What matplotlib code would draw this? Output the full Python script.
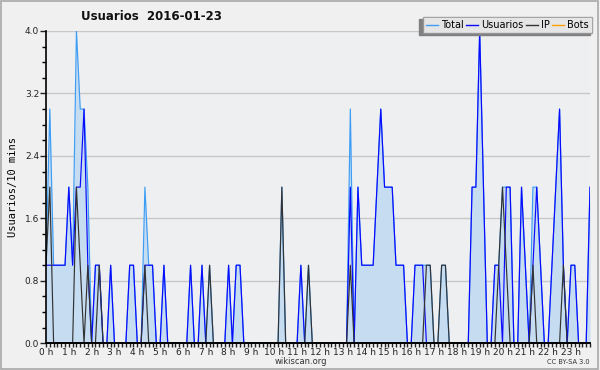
import matplotlib
matplotlib.use('Agg')
import matplotlib.pyplot as plt
import numpy as np
from matplotlib.patches import Rectangle

# values per 10 minute slot (144 slots), only the non-zero ones listed
n_slots = 144
total_nz = {0: 1, 1: 3, 2: 1, 3: 1, 4: 1, 5: 1, 6: 2, 7: 1, 8: 4, 9: 3, 10: 3, 11: 2,
            13: 1, 14: 1, 17: 1, 22: 1, 23: 1, 26: 2, 27: 1, 28: 1, 31: 1,
            38: 1, 41: 1, 43: 1, 48: 1, 50: 1, 51: 1, 62: 2, 67: 1, 69: 1,
            80: 3, 82: 2, 83: 1, 84: 1, 85: 1, 86: 1, 87: 2, 88: 3, 89: 2, 90: 2, 91: 2,
            92: 1, 93: 1, 94: 1, 97: 1, 98: 1, 99: 1, 100: 1, 101: 1, 104: 1, 105: 1,
            112: 2, 113: 2, 114: 4, 115: 2, 118: 1, 119: 1, 120: 2, 121: 2, 122: 2,
            125: 2, 126: 1, 128: 2, 129: 2, 130: 1, 133: 1, 134: 2, 135: 3, 136: 1,
            138: 1, 139: 1, 143: 2}
usuarios_nz = {0: 1, 1: 1, 2: 1, 3: 1, 4: 1, 5: 1, 6: 2, 7: 1, 8: 2, 9: 2, 10: 3, 11: 1,
               13: 1, 14: 1, 17: 1, 22: 1, 23: 1, 26: 1, 27: 1, 28: 1, 31: 1,
               38: 1, 41: 1, 48: 1, 50: 1, 51: 1, 67: 1,
               80: 2, 82: 2, 83: 1, 84: 1, 85: 1, 86: 1, 87: 2, 88: 3, 89: 2, 90: 2, 91: 2,
               92: 1, 93: 1, 94: 1, 97: 1, 98: 1, 99: 1,
               112: 2, 113: 2, 114: 4, 115: 2, 118: 1, 119: 1, 121: 2, 122: 2,
               125: 2, 126: 1, 128: 1, 129: 2, 130: 1, 133: 1, 134: 2, 135: 3, 136: 1,
               138: 1, 139: 1, 143: 2}
ip_nz = {0: 1, 1: 2, 8: 2, 9: 1, 11: 1, 14: 1, 26: 1, 43: 1, 62: 2, 69: 1, 80: 1,
         100: 1, 101: 1, 104: 1, 105: 1, 119: 1, 120: 2, 121: 1, 128: 1, 136: 1}
bots_nz = {}

hour_labels = ['%d h' % h for h in range(24)]
y_ticks = [0.0, 0.8, 1.6, 2.4, 3.2, 4.0]


def to_series(nz):
    s = np.zeros(n_slots)
    for k, v in nz.items():
        s[k] = v
    return s


hours = np.arange(n_slots) / 6.0
total = to_series(total_nz)
usuarios = to_series(usuarios_nz)
ip = to_series(ip_nz)
bots = to_series(bots_nz)

plt.rcParams['font.family'] = 'DejaVu Sans'
fig = plt.figure(figsize=(6, 3.7), dpi=100, facecolor='#f0f0f0')
fig.patches.append(Rectangle((0.002, 0.003), 0.995, 0.994, transform=fig.transFigure,
                             fill=False, edgecolor='#a8a8a8', lw=1.2))
ax = fig.add_axes([46 / 600, 1 - 343.3 / 370, 544 / 600, 312.3 / 370])
ax.set_facecolor('#eeeff1')

lw = 0.85
ax.fill_between(hours, 0, total, color='#c6dcf0', lw=0)
ax.plot(hours, total, color='#3d9df5', lw=lw)
ax.plot(hours, usuarios, color='#0a0aff', lw=lw)
ax.plot(hours, ip, color='#333333', lw=lw)
ax.plot(hours, bots, color='#ffa000', lw=lw)

ax.set_xlim(0, hours[-1])
ax.set_ylim(0, 4.0)
ax.set_yticks(y_ticks)
ax.set_yticklabels(['%.1f' % v for v in y_ticks])
ax.set_yticks(np.arange(0, 4.01, 0.2), minor=True)
ax.set_xticks(np.arange(24))
ax.set_xticklabels(hour_labels)
ax.set_xticks(np.arange(0, 24, 1 / 6.0), minor=True)
ax.grid(axis='y', color='#c8c8c8', lw=1.0)
ax.set_axisbelow(True)

for side in ['top', 'right']:
    ax.spines[side].set_visible(False)
ax.spines['left'].set_linewidth(1.2)
ax.spines['bottom'].set_linewidth(1.4)
ax.tick_params(axis='y', which='major', direction='out', length=4, width=1,
               labelsize=6.5, pad=1, colors='#222222')
ax.tick_params(axis='y', which='minor', direction='out', length=3, width=1)
ax.tick_params(axis='x', which='both', direction='out', length=3, width=1,
               labelsize=6.5, pad=0.5, colors='#222222')

ax.set_ylabel('Usuarios/10 mins', fontsize=7.5, family='DejaVu Sans Mono', labelpad=5)

fig.text(151 / 600, 1 - 16 / 370, 'Usuarios  2016-01-23', ha='center', va='center',
         fontsize=8.5, fontweight='bold', color='#111111')
fig.text(301 / 600, 1 - 362 / 370, 'wikiscan.org', ha='center', va='center',
         fontsize=6, color='#333333')
fig.text(590 / 600, 1 - 362 / 370, 'CC BY-SA 3.0', ha='right', va='center',
         fontsize=4.8, color='#333333')

# legend with left/bottom shadow
handles = [plt.Line2D([], [], color=c, lw=1) for c in ['#3d9df5', '#0a0aff', '#333333', '#ffa000']]
leg = fig.legend(handles, ['Total', 'Usuarios', 'IP', 'Bots'], loc='upper right',
                 bbox_to_anchor=(592 / 600, 1 - 17 / 370), ncol=4, fontsize=7,
                 handlelength=1.2, handletextpad=0.35, columnspacing=0.25,
                 borderpad=0.3, frameon=True, fancybox=False, borderaxespad=0)
leg.get_frame().set_edgecolor('#909090')
leg.get_frame().set_linewidth(1.0)
leg.get_frame().set_facecolor('white')
fig.patches.append(Rectangle((419 / 600, 1 - 34.5 / 370), 171 / 600, 16 / 370,
                             transform=fig.transFigure, color='#808080', zorder=1))

fig.savefig('out.png', dpi=100, facecolor=fig.get_facecolor())
